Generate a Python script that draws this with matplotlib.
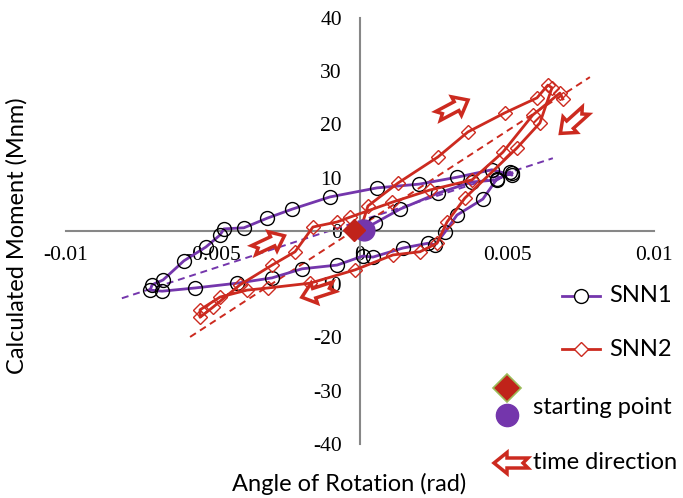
import matplotlib
matplotlib.use("Agg")
import matplotlib.pyplot as plt
from matplotlib.patches import Polygon
from matplotlib.lines import Line2D
import numpy as np

plt.rcParams['lines.scale_dashes'] = False

# ---- data -------------------------------------------------------------
snn1_rot = [0.0, 0.00051, 0.00136, 0.00265, 0.00381, 0.00466, 0.00510, 0.00517,
            0.00449, 0.00330, 0.00201, 0.00058, -0.00102, -0.00231, -0.00316,
            -0.00395, -0.00463, -0.00476, -0.00524, -0.00599, -0.00670, -0.00707,
            -0.00714, -0.00673, -0.00561, -0.00418, -0.00299, -0.00197, -0.00078,
            0.00010, 0.00044, 0.00146, 0.00231, 0.00255, 0.00289, 0.00330,
            0.00418, 0.00466, 0.00517]
snn1_mom = [0.0, 1.5, 4.1, 7.1, 9.2, 9.6, 11.1, 10.5,
            11.5, 10.1, 8.8, 8.1, 6.4, 4.1, 2.4,
            0.6, 0.4, -0.75, -3.0, -5.6, -9.2, -10.1,
            -11.1, -11.3, -10.7, -9.8, -8.8, -7.1, -6.4,
            -4.7, -4.9, -3.2, -2.3, -2.6, -0.2, 3.0,
            6.0, 9.8, 10.9]

snn2_rot = [0.0, 0.00027, 0.00129, 0.00265, 0.00367, 0.00493, 0.00602, 0.00639,
            0.00653, 0.00612, 0.00534, 0.00357, 0.00296, 0.00262, 0.00204,
            0.00112, -0.00017, -0.00170, -0.00313, -0.00384, -0.00476, -0.00544,
            -0.00544, -0.00500, -0.00408, -0.00299, -0.00221, -0.00160, -0.00078,
            -0.00034, 0.00109, 0.00238, 0.00381, 0.00486, 0.00588, 0.00680, 0.00690]
snn2_mom = [0.0, 4.7, 9.0, 13.9, 18.6, 22.2, 25.0, 27.4,
            26.9, 20.3, 15.6, 6.2, 1.7, -2.3, -3.9,
            -4.5, -7.3, -9.8, -10.7, -11.1, -12.4, -14.8,
            -16.2, -14.3, -10.1, -6.4, -3.9, 0.75, 1.7,
            2.6, 5.4, 7.7, 9.6, 14.8, 21.8, 25.9, 24.8]

# linear trend lines: slope, intercept, x-range
trend1_slope, trend1_icpt, trend1_range = 1794.0, 1.9, (-0.0081, 0.00656)
trend2_slope, trend2_icpt, trend2_range = 3588.0, 0.84, (-0.00578, 0.00782)

start1 = (0.00012, 0.2)
start2 = (-0.0002, 0.2)

xticks = [-0.01, -0.005, 0, 0.005, 0.01]
xtick_labels = ['-0.01', '-0.005', '0', '0.005', '0.01']
yticks = [-40, -30, -20, -10, 0, 10, 20, 30, 40]
ytick_labels = ['-40', '-30', '-20', '-10', '0', '10', '20', '30', '40']

# ---- style ------------------------------------------------------------
PURPLE = '#7436AC'
RED = '#CC2A1F'
GRAY = '#878787'
W, H = 683, 498

fig = plt.figure(figsize=(W / 100, H / 100), dpi=100)
ax = fig.add_axes([66 / W, 54 / H, 588 / W, 426 / H])
ax.set_xlim(-0.01, 0.01)
ax.set_ylim(-40, 40)
ax.patch.set_alpha(0)

for s in ('top', 'right'):
    ax.spines[s].set_visible(False)
for s in ('left', 'bottom'):
    ax.spines[s].set_position(('data', 0))
    ax.spines[s].set_color(GRAY)
    ax.spines[s].set_linewidth(1.5)

tick_font = dict(family='Liberation Serif', size=15.5)
ax.set_xticks(xticks)
ax.set_xticklabels(xtick_labels, **tick_font)
ax.set_yticks(yticks)
ax.set_yticklabels(ytick_labels, **tick_font)
ax.tick_params(axis='x', length=0, pad=11)
ax.tick_params(axis='y', length=0, pad=13)

# trend lines
tx1 = np.array(trend1_range)
ax.plot(tx1, trend1_slope * tx1 + trend1_icpt, color=PURPLE, lw=1.4,
        dashes=(5, 3.5), zorder=2)
tx2 = np.array(trend2_range)
ax.plot(tx2, trend2_slope * tx2 + trend2_icpt, color=RED, lw=1.4,
        dashes=(5, 3.5), zorder=2)

# hysteresis curves
ax.plot(snn1_rot, snn1_mom, color=PURPLE, lw=2.0, marker='o', ms=10,
        mfc='none', mec='black', mew=1.0, zorder=3)
ax.plot(snn2_rot, snn2_mom, color=RED, lw=2.0, marker='D', ms=7,
        mfc='none', mec=RED, mew=1.0, zorder=4)

# starting points
ax.plot(*start1, marker='o', ms=15, color=PURPLE, mec=PURPLE, zorder=5)
ax.plot(*start2, marker='D', ms=11, color='#C0231A', mec='#C0231A', zorder=6)


def block_arrow(cx, cy, angle_deg, length=34, head_len=13, head_hw=10.5,
                shaft_hw=5, notch=5):
    """Hollow notched block arrow, centre and size in pixels (y down)."""
    L = length / 2
    pts = np.array([
        (L, 0), (L - head_len, head_hw), (L - head_len, shaft_hw),
        (-L, shaft_hw), (-L + notch, 0), (-L, -shaft_hw),
        (L - head_len, -shaft_hw), (L - head_len, -head_hw)])
    a = np.deg2rad(angle_deg)
    rot = np.array([[np.cos(a), -np.sin(a)], [np.sin(a), np.cos(a)]])
    p = pts @ rot.T
    fx = (cx + p[:, 0]) / W
    fy = (H - cy + p[:, 1]) / H
    poly = Polygon(np.column_stack([fx, fy]), closed=True,
                   transform=fig.transFigure, facecolor='white',
                   edgecolor=RED, lw=2.5, joinstyle='miter', zorder=10)
    fig.add_artist(poly)


# direction arrows on the plot
block_arrow(453, 108, 28)
block_arrow(573, 122, -138)
block_arrow(269, 243, 25)
block_arrow(318, 292, 198)

# axis titles
label_font = dict(family='Lato', size=17)
fig.text(349 / W, 1 - 484 / H, 'Angle of Rotation (rad)', ha='center',
         va='center', **label_font)
fig.text(17 / W, 1 - 236 / H, 'Calculated Moment (Mnm)', ha='center',
         va='center', rotation=90, **label_font)

# legend
fig.add_artist(Line2D([562 / W, 600 / W], [1 - 296 / H] * 2, color=PURPLE,
                      lw=2.0, transform=fig.transFigure))
fig.add_artist(Line2D([581 / W], [1 - 296 / H], marker='o', ms=10, mfc='white',
                      mec='black', mew=1.0, transform=fig.transFigure))
fig.text(609 / W, 1 - 296 / H, 'SNN1', va='center', ha='left', **label_font)

fig.add_artist(Line2D([562 / W, 600 / W], [1 - 349 / H] * 2, color=RED,
                      lw=2.0, transform=fig.transFigure))
fig.add_artist(Line2D([581 / W], [1 - 349 / H], marker='D', ms=7, mfc='white',
                      mec=RED, mew=1.0, transform=fig.transFigure))
fig.text(609 / W, 1 - 349 / H, 'SNN2', va='center', ha='left', **label_font)

fig.add_artist(Line2D([507 / W], [1 - 388 / H], marker='D', ms=14,
                      mfc='#C0231A', mec='#9BBB59', mew=1.2,
                      transform=fig.transFigure))
fig.add_artist(Line2D([507 / W], [1 - 415 / H], marker='o', ms=16,
                      mfc=PURPLE, mec=PURPLE, transform=fig.transFigure))
fig.text(533 / W, 1 - 408 / H, 'starting point', va='center', ha='left',
         **label_font)

block_arrow(511, 463, 180)
fig.text(533 / W, 1 - 462 / H, 'time direction', va='center', ha='left',
         **label_font)

fig.savefig('out.png', dpi=100)
